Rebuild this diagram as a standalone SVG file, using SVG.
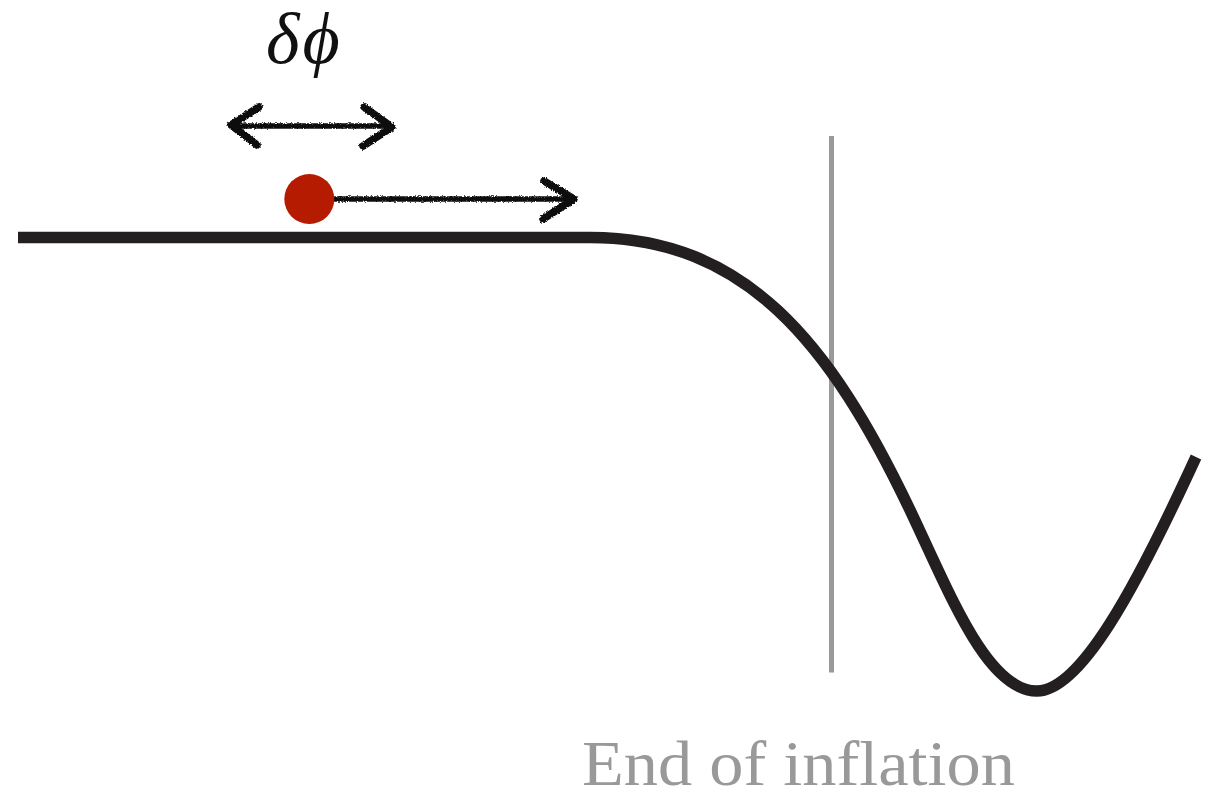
<svg xmlns="http://www.w3.org/2000/svg" width="1219" height="793" viewBox="0 0 1219 793">
  <defs>
    <filter id="chalk" x="-10%" y="-50%" width="120%" height="200%">
      <feTurbulence type="fractalNoise" baseFrequency="0.9" numOctaves="2" seed="3" result="n"/>
      <feDisplacementMap in="SourceGraphic" in2="n" scale="3.5" xChannelSelector="R" yChannelSelector="G"/>
    </filter>
  </defs>
  <style>
    .potential { fill: none; stroke: #231f20; stroke-width: 11.5; stroke-linecap: butt; stroke-linejoin: round; }
    .endline { stroke: #9a9a9a; stroke-width: 5; }
    .sketch { fill: none; stroke: #111; stroke-linecap: round; stroke-linejoin: round; }
    .shaft { stroke-width: 5.5; }
    .head { stroke-width: 7.5; }
    .math { font-family: "Liberation Serif", "DejaVu Serif", serif; font-style: italic; font-size: 72px; fill: #111; }
    .label { font-family: "Liberation Serif", "DejaVu Serif", serif; font-size: 63px; fill: #999999; }
  </style>
  <rect width="1219" height="793" fill="#ffffff"/>

  <g id="end-line">
    <line class="endline" x1="831.5" y1="136" x2="831.5" y2="672.5"/>
  </g>

  <g id="potential">
    <path class="potential" d="M18,237.5 L590,237.5 C745,237.5 830,342 910,510 C950,594 987,691 1037,691 C1080,691 1135,590 1196,457"/>
  </g>

  <g id="connectors" filter="url(#chalk)">
    <g id="velocity-arrow">
      <line class="sketch shaft" x1="334" y1="199" x2="573" y2="199"/>
      <polyline class="sketch head" points="544,181 574,199 543,219"/>
    </g>
    <g id="dphi-arrow">
      <line class="sketch shaft" x1="233" y1="126" x2="392" y2="126"/>
      <polyline class="sketch head" points="259,107 231,125 257,145"/>
      <polyline class="sketch head" points="364,107 392,127 363,146"/>
    </g>
  </g>

  <g id="ball">
    <circle cx="309.3" cy="199" r="25" fill="#b51b00"/>
  </g>

  <g id="label-dphi">
    <text class="math" x="266" y="63" letter-spacing="3">δϕ</text>
  </g>

  <g id="label-end">
    <text class="label" x="582" y="785" textLength="433" lengthAdjust="spacingAndGlyphs">End of inflation</text>
  </g>
</svg>
